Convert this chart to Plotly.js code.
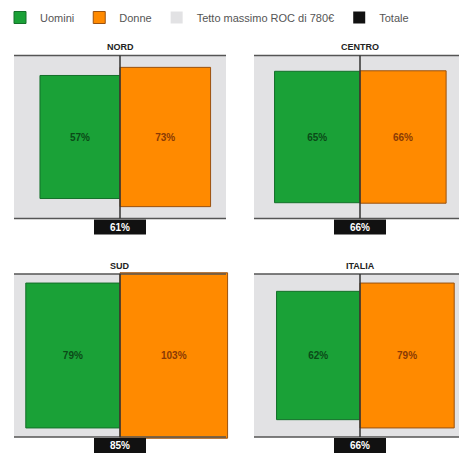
<!DOCTYPE html>
<html>
<head>
<meta charset="utf-8">
<script src="https://cdn.plot.ly/plotly-3.0.1.min.js"></script>
<style>html,body{margin:0;padding:0;background:#fff;}#chart{width:459px;height:456px;}</style>
</head>
<body>
<div id="chart"></div>
<script>
// ---- data ----
const regions = ['NORD', 'CENTRO', 'SUD', 'ITALIA'];
const uomini = [57, 65, 79, 62];      // % of ROC cap, men
const donne = [73, 66, 103, 79];      // % of ROC cap, women
const totale = [61, 66, 85, 66];      // % total
const tetto = [100, 100, 100, 100];   // ROC cap = 100%
const seriesNames = ['Uomini', 'Donne', 'Tetto massimo ROC di 780€', 'Totale'];

// ---- layout constants (pixels) ----
const WIDTH = 459, HEIGHT = 456;
const W = 106;   // px per side for 100% width
const H = 163;   // px for 100% height
const cols = [{a: 0, b: 240, c: 120}, {a: 240, b: 459, c: 360}];
const rows = [{t: 30, b: 246, c: 137}, {t: 250, b: 456, c: 355.5}];

const GREEN = '#1aa137', GREEN_LINE = '#14702a', GREEN_TXT = '#0b4a17';
const ORANGE = '#ff8a00', ORANGE_LINE = '#9a5210', ORANGE_TXT = '#8a3a05';
const GREY = '#e2e2e4';
const FONT = 'Liberation Sans, Arial, sans-serif';

const traces = [];
const shapes = [];
const annotations = [];
const layout = {
  width: WIDTH, height: HEIGHT,
  margin: {l: 0, r: 0, t: 0, b: 0},
  paper_bgcolor: '#fff', plot_bgcolor: 'rgba(0,0,0,0)',
  barmode: 'overlay',
  showlegend: true,
  legend: {orientation: 'h', x: 0, y: 1 - 3 / HEIGHT, xanchor: 'left', yanchor: 'top',
           font: {family: FONT, size: 11, color: '#555'},
           itemwidth: 30, traceorder: 'normal', tracegroupgap: 0},
  font: {family: FONT}
};

regions.forEach((name, i) => {
  const col = cols[i % 2], row = rows[Math.floor(i / 2)];
  const k = i === 0 ? '' : String(i + 1);
  const xa = 'x' + k, ya = 'y' + k;
  layout['xaxis' + k] = {
    domain: [col.a / WIDTH, col.b / WIDTH],
    range: [(col.a - col.c) / W, (col.b - col.c) / W],
    visible: false, fixedrange: true, anchor: ya
  };
  layout['yaxis' + k] = {
    domain: [1 - row.b / HEIGHT, 1 - row.t / HEIGHT],
    range: [(row.c - row.b) / H, (row.c - row.t) / H],
    visible: false, fixedrange: true, anchor: xa
  };
  const first = i === 0;
  const st = Math.sqrt(tetto[i] / 100);
  const su = Math.sqrt(uomini[i] / 100);
  const sd = Math.sqrt(donne[i] / 100);

  // cap box
  traces.push({
    type: 'bar', xaxis: xa, yaxis: ya, name: seriesNames[2], legendgroup: 'tetto',
    showlegend: first, legendrank: 3,
    x: [0], width: [2 * st], base: [-st / 2], y: [st],
    marker: {color: GREY, line: {color: '#777', width: 0}},
    hoverinfo: 'skip'
  });
  // men
  traces.push({
    type: 'bar', xaxis: xa, yaxis: ya, name: seriesNames[0], legendgroup: 'uomini',
    showlegend: first, legendrank: 1,
    x: [-su / 2], width: [su], base: [-su / 2], y: [su],
    marker: {color: GREEN, line: {color: GREEN_LINE, width: 1}},
    text: [uomini[i] + '%'], textposition: 'inside', insidetextanchor: 'middle',
    textangle: 0, constraintext: 'none',
    textfont: {family: FONT, size: 10, color: GREEN_TXT, weight: 'bold'},
    hoverinfo: 'skip'
  });
  // women
  traces.push({
    type: 'bar', xaxis: xa, yaxis: ya, name: seriesNames[1], legendgroup: 'donne',
    showlegend: first, legendrank: 2,
    x: [sd / 2], width: [sd], base: [-sd / 2], y: [sd],
    marker: {color: ORANGE, line: {color: ORANGE_LINE, width: 1}},
    text: [donne[i] + '%'], textposition: 'inside', insidetextanchor: 'middle',
    textangle: 0, constraintext: 'none',
    textfont: {family: FONT, size: 10, color: ORANGE_TXT, weight: 'bold'},
    hoverinfo: 'skip'
  });
  // total label (black tag)
  const tagH = 15 / H;
  traces.push({
    type: 'bar', xaxis: xa, yaxis: ya, name: seriesNames[3], legendgroup: 'totale',
    showlegend: first, legendrank: 4,
    x: [0], width: [52 / W], base: [-st / 2 - 1 / H - tagH], y: [tagH],
    marker: {color: '#111', line: {width: 0}},
    text: [totale[i] + '%'], textposition: 'inside', insidetextanchor: 'middle',
    textangle: 0, constraintext: 'none',
    textfont: {family: FONT, size: 10, color: '#fff', weight: 'bold'},
    hoverinfo: 'skip'
  });

  // top & bottom rules of the cap box
  [st / 2, -st / 2].forEach(yv => shapes.push({
    type: 'line', xref: xa, yref: ya, x0: -st, x1: st, y0: yv, y1: yv,
    line: {color: '#555', width: 1.5}, layer: 'above'
  }));
  // center divider
  shapes.push({
    type: 'line', xref: xa, yref: ya, x0: 0, x1: 0, y0: st / 2, y1: -st / 2,
    line: {color: '#333', width: 1.5}, layer: 'above'
  });
  // region title
  annotations.push({
    xref: xa, yref: ya, x: 0, y: st / 2, yanchor: 'bottom', xanchor: 'center',
    yshift: 1, showarrow: false, text: '<b>' + name + '</b>',
    font: {family: FONT, size: 9, color: '#222'}
  });
});

layout.shapes = shapes;
layout.annotations = annotations;

Plotly.newPlot('chart', traces, layout, {staticPlot: true, displayModeBar: false});
</script>
</body>
</html>
